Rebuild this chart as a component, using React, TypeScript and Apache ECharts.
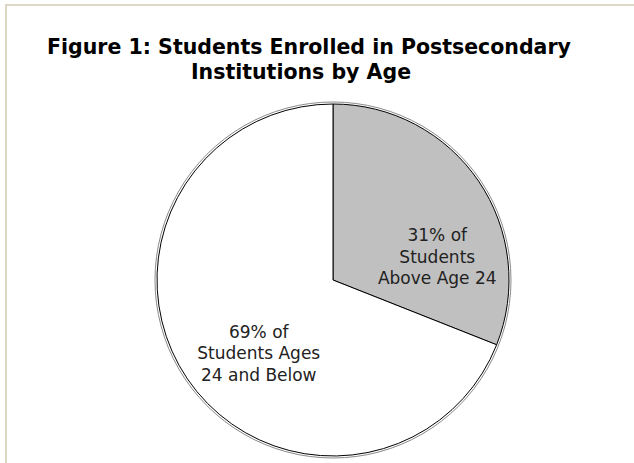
import React, { useEffect, useRef } from "react";
import * as echarts from "echarts";

const titleLines = ["Figure 1: Students Enrolled in Postsecondary", "Institutions by Age"];
const sliceNames = ["Students Above Age 24", "Students Ages 24 and Below"];
const sliceValues = [31, 69];
const sliceLabelTails = ["Students\nAbove Age 24", "Students Ages\n24 and Below"];
const sliceColors = ["#c0c0c0", "#ffffff"];

export default function App() {
  const ref = useRef<HTMLDivElement>(null);
  useEffect(() => {
    document.body.style.margin = "0";
    const chart = echarts.init(ref.current!, null, { renderer: "svg" });
    const font = "DejaVu Sans, Verdana, sans-serif";
    const titleStyle = {
      fontFamily: font,
      fontWeight: "bold",
      fontSize: 20.5,
      lineHeight: 25,
      color: "#000",
    };
    chart.setOption({
      animation: false,
      backgroundColor: "#ffffff",
      title: [
        { text: titleLines[0], left: 309, top: 34, textAlign: "center", padding: 0, textStyle: titleStyle },
        { text: titleLines[1], left: 301, top: 59, textAlign: "center", padding: 0, textStyle: titleStyle },
      ],
      graphic: [
        {
          type: "rect",
          shape: { x: 6, y: 5, width: 800, height: 600 },
          style: { fill: "none", stroke: "#dcd8c4", lineWidth: 2 },
          silent: true,
        },
      ],
      series: [
        {
          type: "pie",
          silent: true,
          center: [333, 280],
          radius: 178,
          startAngle: 90,
          label: { show: false },
          labelLine: { show: false },
          itemStyle: { color: "rgba(0,0,0,0)", borderColor: "#8a8a8a", borderWidth: 1 },
          data: [{ value: 1, name: "outline" }],
          z: 1,
        },
        {
          type: "pie",
          silent: true,
          center: [333, 280],
          radius: 176,
          startAngle: 90,
          clockwise: true,
          labelLine: { show: false },
          itemStyle: { borderColor: "#000", borderWidth: 1 },
          data: sliceValues.map((v, i) => ({
            value: v,
            name: sliceNames[i],
            itemStyle: { color: sliceColors[i] },
            label: {
              show: true,
              position: "inside",
              formatter: `${v}% of\n${sliceLabelTails[i]}`,
              fontFamily: font,
              fontSize: 17,
              lineHeight: 21.5,
              color: "#222",
              align: "center",
              offset: i === 0 ? [29, 28] : [1, 22],
            },
          })),
          z: 2,
        },
      ],
    });
    return () => chart.dispose();
  }, []);
  return <div ref={ref} style={{ width: 634, height: 463 }} />;
}
